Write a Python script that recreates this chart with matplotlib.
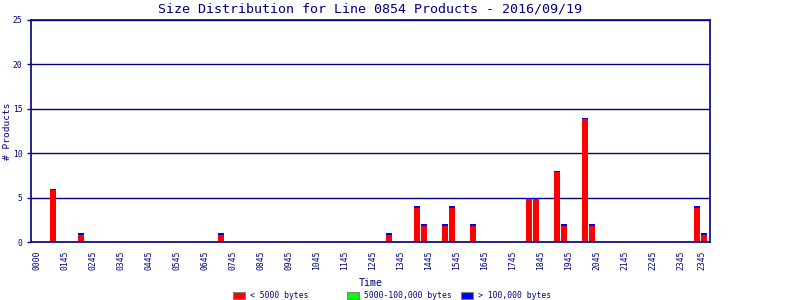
import matplotlib
matplotlib.use('Agg')
import matplotlib.pyplot as plt
from matplotlib.patches import Rectangle
import numpy as np

NAVY = '#000080'

# 96 fifteen-minute slots
slots = [f'{h:02d}{m:02d}' for h in range(24) for m in (0, 15, 30, 45)]

bar_times = ['0030', '0130', '0630', '1230', '1330', '1345', '1430', '1445',
             '1530', '1730', '1745', '1830', '1845', '1930', '1945', '2330', '2345']
small_counts = [6, 1, 1, 1, 4, 2, 2, 4, 2, 5, 5, 8, 2, 14, 2, 4, 1]

tick_slots = ['0000'] + [f'{h:02d}00' for h in range(1, 24)] + ['2345']
tick_labels = ['0000'] + [f'{h:02d}45' for h in range(1, 24)] + ['2345']

legend_labels = ['< 5000 bytes', '5000-100,000 bytes', '> 100,000 bytes']
legend_colors = ['#ff0000', '#00ff00', '#0000ff']

plt.rcParams['font.family'] = ['DejaVu Sans Mono']

fig = plt.figure(figsize=(8, 3), dpi=100)
ax = fig.add_axes([31 / 800, 1 - 242 / 300, 679 / 800, 222 / 300])

x = np.array([slots.index(t) for t in bar_times])
vals = np.array(small_counts, dtype=float)
cap = 0.16
ax.bar(x, vals, width=0.86, color='#ff0000', linewidth=0)
ax.bar(x, cap, bottom=vals - cap, width=0.86, color='#0000ff', linewidth=0)

ax.set_xlim(-1.14, 95.86)
ax.set_ylim(0, 25)
ax.set_yticks([0, 5, 10, 15, 20, 25])
ax.yaxis.grid(True, color=NAVY, linewidth=1.0)
ax.set_axisbelow(True)

tpos = [slots.index(t) - 0.35 for t in tick_slots]
ax.set_xticks(tpos)
ax.set_xticklabels(tick_labels, rotation=90, fontsize=5.8, color=NAVY)
ax.tick_params(axis='x', length=0, pad=6)
ax.tick_params(axis='y', length=3, width=1, color=NAVY, labelcolor=NAVY,
               labelsize=5.8, pad=3)

for s in ax.spines.values():
    s.set_color(NAVY)
    s.set_linewidth(1.2)

ax.set_xlabel('Time', fontsize=7.2, color=NAVY, labelpad=6)
ax.set_ylabel('# Products', fontsize=6.8, color=NAVY)
ax.yaxis.set_label_coords(-18.5 / 679, 0.5)
fig.text(370 / 800, 1 - 9 / 300, 'Size Distribution for Line 0854 Products - 2016/09/19',
         ha='center', va='center', fontsize=9.6, color=NAVY)

# legend: fixed-width columns, drawn in figure pixels
for i, (lab, col) in enumerate(zip(legend_labels, legend_colors)):
    x0 = 233 + 114 * i
    fig.patches.append(Rectangle((x0 / 800, 1 - 299 / 300), 12 / 800, 7 / 300,
                                 transform=fig.transFigure, facecolor=col,
                                 edgecolor='#808080', linewidth=0.8))
    fig.text((x0 + 17) / 800, 1 - 295.5 / 300, lab, ha='left', va='center',
             fontsize=5.8, color=NAVY)

plt.savefig('out.png', dpi=100)
plt.close()
